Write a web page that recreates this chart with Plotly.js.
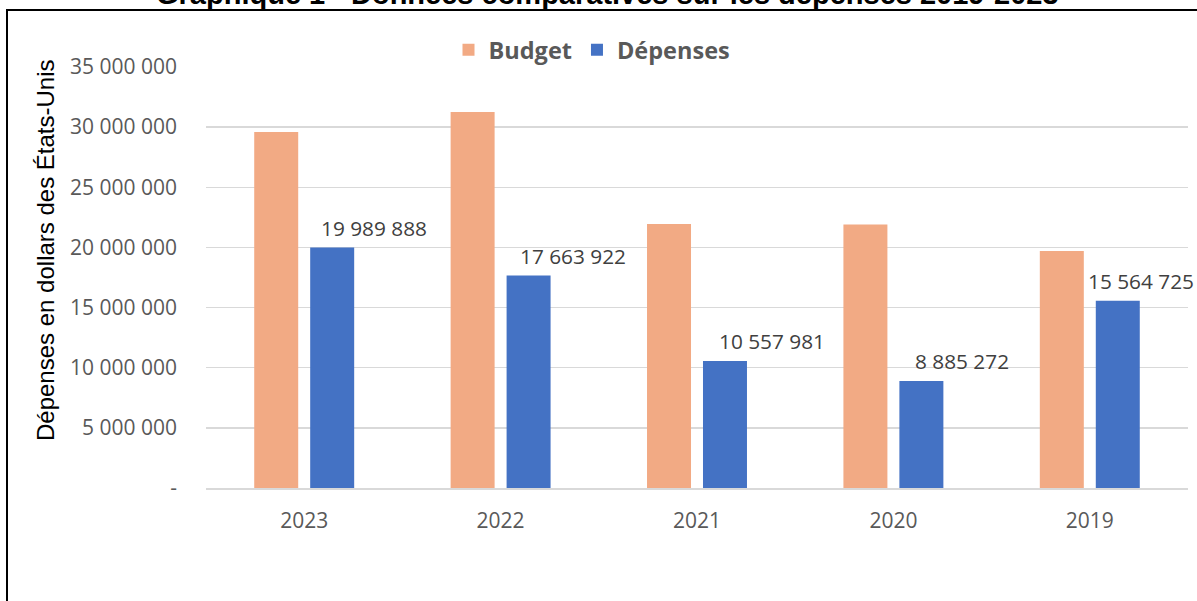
<!DOCTYPE html>
<html>
<head>
<meta charset="utf-8">
<script src="https://cdn.plot.ly/plotly-3.0.1.min.js"></script>
<style>html,body{margin:0;padding:0;background:#fff;}#chart{width:1197px;height:601px;}</style>
</head>
<body>
<div id="chart"></div>
<script>
const years = ["2023", "2022", "2021", "2020", "2019"];
const budget = [29600000, 31250000, 21950000, 21900000, 19700000];
const depenses = [19989888, 17663922, 10557981, 8885272, 15564725];
const yTickVals = [0, 5000000, 10000000, 15000000, 20000000, 25000000, 30000000, 35000000];
const yTickText = ["-", "5 000 000", "10 000 000", "15 000 000", "20 000 000", "25 000 000", "30 000 000", "35 000 000"];
const labelShift = [70, 72, 75, 69, 51];

function fmt(v) {
  return String(v).replace(/\B(?=(\d{3})+(?!\d))/g, " ");
}

const W = 1197, H = 601;
const L = 206, R = 9, T = 67, B = 113;
const pw = W - L - R, ph = H - T - B;
const px = p => (p - L) / pw;
const py = p => (H - B - p) / ph;

const traces = [
  {type: "bar", name: "Budget", x: years, y: budget, marker: {color: "#F2AA84"}, hoverinfo: "skip"},
  {type: "bar", name: "Dépenses", x: years, y: depenses, marker: {color: "#4472C4"}, hoverinfo: "skip"}
];

const annotations = depenses.map((v, i) => ({
  xref: "x", yref: "y", x: i, y: v, text: fmt(v), showarrow: false,
  xanchor: "center", yanchor: "bottom", xshift: labelShift[i], yshift: 4,
  font: {family: "Open Sans", size: 20.8, color: "#404040"}
}));

annotations.push({
  xref: "paper", yref: "paper", x: px(607), y: py(12), xanchor: "center", yanchor: "bottom",
  showarrow: false, text: "<b>Graphique 1 - Données comparatives sur les dépenses 2019-2023</b>",
  font: {family: "Liberation Sans", size: 29, color: "#000"}
});
annotations.push({
  xref: "paper", yref: "paper", x: px(45), y: py(250), xanchor: "center", yanchor: "middle",
  showarrow: false, textangle: -90, text: "Dépenses en dollars des États-Unis",
  font: {family: "Liberation Sans", size: 24, color: "#000"}
});

const layout = {
  width: W, height: H,
  margin: {l: L, r: R, t: T, b: B, pad: 0},
  paper_bgcolor: "#fff", plot_bgcolor: "#fff",
  barmode: "group", bargap: 0.43, bargroupgap: 0.214,
  showlegend: true,
  legend: {orientation: "h", x: px(592), xanchor: "center", y: py(50), yanchor: "middle",
    font: {family: "Open Sans", size: 23.5, color: "#595959", weight: "bold"}, traceorder: "normal",
    bgcolor: "rgba(0,0,0,0)"},
  xaxis: {type: "category", range: [-0.5, years.length - 0.5], autorange: false, showgrid: false, zeroline: false,
    showline: true, linecolor: "#D9D9D9", linewidth: 2,
    ticks: "", ticklabelstandoff: 13, tickfont: {family: "Open Sans", size: 21, color: "#595959"}},
  yaxis: {range: [0, 35000000], autorange: false, tickvals: yTickVals, ticktext: yTickText, showgrid: true,
    gridcolor: "#D9D9D9", gridwidth: 1.3, zeroline: false, showline: false, ticks: "",
    ticklabelstandoff: 28, tickfont: {family: "Open Sans", size: 21, color: "#595959"}},
  annotations: annotations,
  shapes: [{type: "rect", xref: "paper", yref: "paper", x0: px(7), x1: px(1202), y0: py(640), y1: py(10),
    line: {color: "#000", width: 2}, fillcolor: "rgba(0,0,0,0)", layer: "above"}]
};

Plotly.newPlot("chart", traces, layout, {displayModeBar: false, staticPlot: true});
</script>
</body>
</html>
